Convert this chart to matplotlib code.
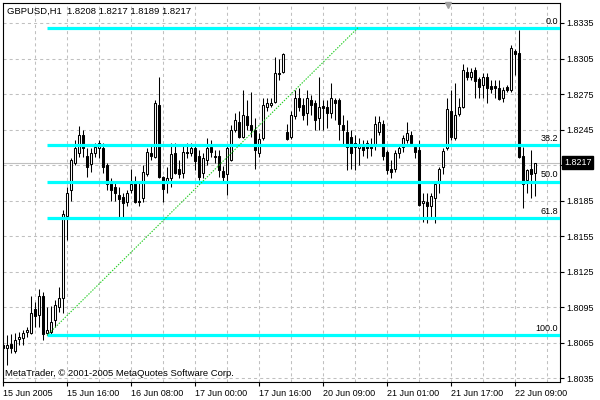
import matplotlib
matplotlib.use("Agg")
import matplotlib.pyplot as plt
import matplotlib.transforms as mtransforms
import numpy as np

plt.rcParams['font.family'] = ['Liberation Sans', 'DejaVu Sans']
plt.rcParams['font.size'] = 6.5
plt.rcParams['lines.scale_dashes'] = False

symbol_header = "GBPUSD,H1  1.8208 1.8217 1.8189 1.8217"
copyright_text = "MetaTrader, © 2001-2005 MetaQuotes Software Corp."

opens = [1.8063, 1.8060, 1.8064, 1.8058, 1.8068, 1.8069, 1.8074, 1.8073, 1.8093, 1.8088,
         1.8104, 1.8073, 1.8074, 1.8084, 1.8095, 1.8103, 1.8172, 1.8194, 1.8217, 1.8225,
         1.8240, 1.8223, 1.8216, 1.8225, 1.8229, 1.8229, 1.8215, 1.8200, 1.8196, 1.8190,
         1.8188, 1.8184, 1.8194, 1.8200, 1.8185, 1.8187, 1.8207, 1.8225, 1.8222, 1.8266,
         1.8205, 1.8200, 1.8204, 1.8225, 1.8212, 1.8208, 1.8226, 1.8225, 1.8229, 1.8223,
         1.8208, 1.8219, 1.8230, 1.8223, 1.8223, 1.8210, 1.8207, 1.8219, 1.8245, 1.8251,
         1.8239, 1.8256, 1.8249, 1.8245, 1.8225, 1.8238, 1.8264, 1.8266, 1.8268, 1.8293,
         1.8294, 1.8243, 1.8239, 1.8256, 1.8272, 1.8266, 1.8259, 1.8270, 1.8267, 1.8255,
         1.8265, 1.8264, 1.8259, 1.8270, 1.8270, 1.8249, 1.8243, 1.8239, 1.8234, 1.8229,
         1.8231, 1.8234, 1.8231, 1.8232, 1.8243, 1.8250, 1.8226, 1.8212, 1.8212, 1.8225,
         1.8230, 1.8236, 1.8240, 1.8230, 1.8228, 1.8183, 1.8184, 1.8180, 1.8187, 1.8200,
         1.8213, 1.8229, 1.8261, 1.8238, 1.8258, 1.8264, 1.8294, 1.8289, 1.8295, 1.8288,
         1.8283, 1.8289, 1.8282, 1.8282, 1.8280, 1.8272, 1.8281, 1.8278, 1.8311, 1.8310,
         1.8223, 1.8202, 1.8212, 1.8208]
highs = [1.8067, 1.8071, 1.8072, 1.8073, 1.8074, 1.8076, 1.8078, 1.8104, 1.8099, 1.8110,
         1.8108, 1.8095, 1.8096, 1.8101, 1.8112, 1.8177, 1.8196, 1.8221, 1.8236, 1.8248,
         1.8245, 1.8229, 1.8229, 1.8234, 1.8236, 1.8234, 1.8217, 1.8204, 1.8200, 1.8196,
         1.8191, 1.8194, 1.8212, 1.8206, 1.8200, 1.8215, 1.8229, 1.8232, 1.8270, 1.8289,
         1.8206, 1.8213, 1.8234, 1.8234, 1.8219, 1.8232, 1.8234, 1.8234, 1.8231, 1.8228,
         1.8225, 1.8238, 1.8236, 1.8228, 1.8228, 1.8214, 1.8231, 1.8249, 1.8259, 1.8261,
         1.8278, 1.8270, 1.8277, 1.8255, 1.8242, 1.8272, 1.8272, 1.8272, 1.8306, 1.8305,
         1.8310, 1.8250, 1.8261, 1.8278, 1.8280, 1.8272, 1.8278, 1.8274, 1.8270, 1.8289,
         1.8270, 1.8270, 1.8284, 1.8272, 1.8272, 1.8257, 1.8253, 1.8245, 1.8240, 1.8238,
         1.8236, 1.8236, 1.8238, 1.8256, 1.8256, 1.8253, 1.8228, 1.8219, 1.8228, 1.8232,
         1.8240, 1.8251, 1.8244, 1.8232, 1.8236, 1.8191, 1.8191, 1.8191, 1.8200, 1.8213,
         1.8229, 1.8272, 1.8278, 1.8284, 1.8272, 1.8300, 1.8298, 1.8297, 1.8298, 1.8289,
         1.8293, 1.8293, 1.8287, 1.8287, 1.8287, 1.8281, 1.8283, 1.8316, 1.8313, 1.8329,
         1.8230, 1.8212, 1.8228, 1.8217]
lows = [1.8057, 1.8046, 1.8056, 1.8056, 1.8063, 1.8063, 1.8070, 1.8072, 1.8078, 1.8078,
        1.8067, 1.8071, 1.8072, 1.8078, 1.8091, 1.8090, 1.8152, 1.8185, 1.8215, 1.8222,
        1.8222, 1.8205, 1.8209, 1.8222, 1.8221, 1.8208, 1.8194, 1.8185, 1.8185, 1.8171,
        1.8169, 1.8180, 1.8191, 1.8183, 1.8180, 1.8184, 1.8206, 1.8219, 1.8221, 1.8204,
        1.8184, 1.8191, 1.8196, 1.8207, 1.8204, 1.8204, 1.8221, 1.8223, 1.8211, 1.8202,
        1.8204, 1.8215, 1.8222, 1.8217, 1.8205, 1.8200, 1.8190, 1.8218, 1.8243, 1.8238,
        1.8238, 1.8245, 1.8239, 1.8212, 1.8222, 1.8236, 1.8261, 1.8264, 1.8267, 1.8287,
        1.8293, 1.8236, 1.8237, 1.8254, 1.8261, 1.8253, 1.8249, 1.8257, 1.8245, 1.8245,
        1.8245, 1.8246, 1.8255, 1.8253, 1.8236, 1.8232, 1.8211, 1.8212, 1.8211, 1.8215,
        1.8223, 1.8221, 1.8223, 1.8228, 1.8240, 1.8219, 1.8207, 1.8204, 1.8209, 1.8221,
        1.8226, 1.8234, 1.8232, 1.8221, 1.8180, 1.8167, 1.8166, 1.8169, 1.8166, 1.8191,
        1.8207, 1.8228, 1.8236, 1.8236, 1.8256, 1.8263, 1.8287, 1.8287, 1.8272, 1.8272,
        1.8272, 1.8267, 1.8276, 1.8272, 1.8270, 1.8268, 1.8277, 1.8277, 1.8291, 1.8221,
        1.8179, 1.8191, 1.8187, 1.8189]
closes = [1.8060, 1.8063, 1.8060, 1.8067, 1.8070, 1.8073, 1.8076, 1.8090, 1.8087, 1.8104,
          1.8072, 1.8076, 1.8082, 1.8097, 1.8103, 1.8174, 1.8191, 1.8219, 1.8229, 1.8240,
          1.8229, 1.8213, 1.8225, 1.8230, 1.8234, 1.8213, 1.8199, 1.8194, 1.8191, 1.8186,
          1.8183, 1.8191, 1.8199, 1.8184, 1.8184, 1.8209, 1.8226, 1.8223, 1.8267, 1.8205,
          1.8195, 1.8204, 1.8224, 1.8208, 1.8207, 1.8226, 1.8225, 1.8229, 1.8218, 1.8205,
          1.8221, 1.8229, 1.8226, 1.8222, 1.8211, 1.8205, 1.8229, 1.8245, 1.8253, 1.8239,
          1.8257, 1.8249, 1.8245, 1.8228, 1.8237, 1.8266, 1.8267, 1.8267, 1.8293, 1.8292,
          1.8309, 1.8237, 1.8257, 1.8272, 1.8264, 1.8257, 1.8272, 1.8266, 1.8253, 1.8264,
          1.8263, 1.8259, 1.8272, 1.8267, 1.8250, 1.8245, 1.8230, 1.8225, 1.8230, 1.8233,
          1.8228, 1.8229, 1.8229, 1.8250, 1.8251, 1.8223, 1.8211, 1.8209, 1.8225, 1.8229,
          1.8238, 1.8242, 1.8234, 1.8226, 1.8181, 1.8185, 1.8180, 1.8189, 1.8199, 1.8212,
          1.8227, 1.8262, 1.8239, 1.8257, 1.8264, 1.8295, 1.8289, 1.8294, 1.8286, 1.8281,
          1.8289, 1.8280, 1.8279, 1.8280, 1.8271, 1.8278, 1.8278, 1.8314, 1.8309, 1.8222,
          1.8199, 1.8211, 1.8207, 1.8217]

x_tick_bars = [0, 16, 32, 48, 64, 80, 96, 112, 128]
x_tick_labels = ["15 Jun 2005", "15 Jun 16:00", "16 Jun 08:00", "17 Jun 00:00",
                 "17 Jun 16:00", "20 Jun 09:00", "21 Jun 01:00", "21 Jun 17:00",
                 "22 Jun 09:00"]
y_ticks = [1.8035, 1.8065, 1.8095, 1.8125, 1.8155, 1.8185, 1.8215, 1.8245,
           1.8275, 1.8305, 1.8335]

fib_high = 1.8331
fib_low = 1.8071
fib_start_bar = 11
fib_end_bar = 88.75
fib_ratios = [0.0, 38.2, 50.0, 61.8, 100.0]
fib_labels = ["0.0", "38.2", "50.0", "61.8", "100.0"]
current_price = 1.8217

W, H = 600, 400
fig = plt.figure(figsize=(6, 4), dpi=100)
fig.patch.set_facecolor('white')
left_px, right_px, top_px, bottom_px = 2.5, 560, 2.5, 382
ax = fig.add_axes([left_px / W, 1 - bottom_px / H,
                   (right_px - left_px) / W, (bottom_px - top_px) / H])

# price <-> pixel scale: 1.8335 at y=23, 0.0000845 per px
def px_to_price(py):
    return 1.8335 - (py - 23) * 0.0000845

ax.set_xlim((left_px - 3) / 4, (right_px - 3) / 4)
ax.set_ylim(px_to_price(bottom_px), px_to_price(top_px))

grid_kw = dict(color='#c0c0c0', lw=0.75, linestyle=(0, (2.2, 2.2)), zorder=0.5)
for yt in y_ticks:
    ax.axhline(yt, **grid_kw)
for xb in range(8, 140, 8):
    ax.axvline(xb, **grid_kw)

ax.axhline(current_price, color='#c0c0c0', lw=0.8, zorder=0.8)

n = len(opens)
xs = np.arange(n)
o = np.array(opens); c = np.array(closes)
hi = np.array(highs); lo = np.array(lows)
ax.vlines(xs, lo, hi, color='black', lw=0.75, zorder=3)
bottoms = np.minimum(o, c)
heights = np.abs(c - o)
face = ['white' if cc >= oo else 'black' for oo, cc in zip(o, c)]
ax.bar(xs, heights, bottom=bottoms, width=0.5, color=face, edgecolor='black',
       linewidth=0.75, zorder=4)

# Fibonacci retracement
span = fib_high - fib_low
xr = (right_px - 3) / 4
for r, lab in zip(fib_ratios, fib_labels):
    lev = fib_high - r / 100.0 * span
    ax.hlines(lev, fib_start_bar, xr, color='#00ffff', lw=2.3, zorder=5)
    ax.annotate(lab, xy=(xr, lev), xytext=(-1.5, 1.5), textcoords='offset points',
                ha='right', va='bottom', fontsize=6.5, color='black', zorder=6)
ax.plot([fib_start_bar, fib_end_bar], [fib_low, fib_high], color='#22cc22',
        lw=0.8, linestyle=(0, (1, 1)), zorder=5)

# axes
for s in ax.spines.values():
    s.set_color('black')
    s.set_linewidth(0.8)
ax.yaxis.tick_right()
ax.set_yticks(y_ticks)
ax.set_yticklabels(["" if abs(v - 1.8215) < 1e-6 else f"{v:.4f}" for v in y_ticks])
ax.set_xticks(x_tick_bars)
ax.set_xticklabels(x_tick_labels)
for lbl in ax.get_xticklabels():
    lbl.set_ha('left')
ax.tick_params(axis='both', direction='out', length=3, width=0.8, color='black',
               labelsize=6.5, pad=1.5)
ax.tick_params(axis='x', pad=2)

# current price box
trans = mtransforms.blended_transform_factory(ax.transAxes, ax.transData)
ax.text(1.0 + 4 / (right_px - left_px), current_price, "1.8217", transform=trans,
        color='white', fontsize=6.5, va='center', ha='left', zorder=10,
        bbox=dict(facecolor='black', edgecolor='black', pad=1.3), clip_on=False)

fig.text(7 / W, 1 - 11 / H, symbol_header, fontsize=6.8, va='center', ha='left')
fig.text(5 / W, 1 - 374 / H, copyright_text, fontsize=6.8, va='center', ha='left')
fig.lines.append(plt.Line2D([447.5 / W], [1 - 5 / H], marker='v', color='#a0a0a0',
                            markersize=4.5, transform=fig.transFigure))

fig.savefig("out.png", dpi=100)
